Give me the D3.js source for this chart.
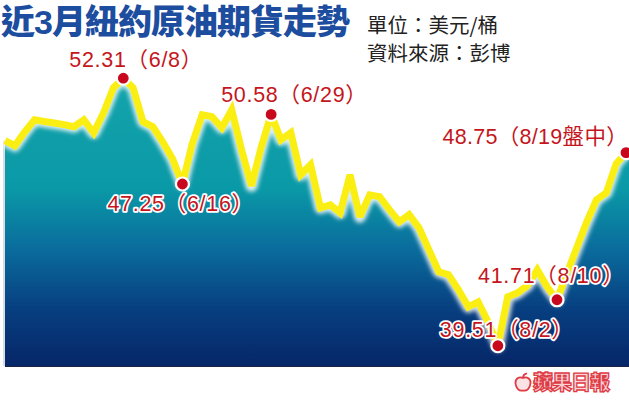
<!DOCTYPE html>
<html>
<head>
<meta charset="utf-8">
<script src="https://cdn.jsdelivr.net/npm/d3@7/dist/d3.min.js"></script>
<style>
html,body{margin:0;padding:0;background:#fff;}
svg{display:block;}
</style>
</head>
<body>
<svg id="chart" width="629" height="401"></svg>
<script>
// ---- data ----
const dates = [
  "5/20","5/23","5/24","5/25","5/26","5/27","5/31","6/1","6/2","6/3",
  "6/6","6/7","6/8","6/9","6/10","6/13","6/14","6/15","6/16","6/17",
  "6/20","6/21","6/22","6/23","6/24","6/27","6/28","6/29","6/30","7/1",
  "7/5","7/6","7/7","7/8","7/11","7/12","7/13","7/14","7/15","7/18",
  "7/19","7/20","7/21","7/22","7/25","7/26","7/27","7/28","7/29","8/1",
  "8/2","8/3","8/4","8/5","8/8","8/9","8/10","8/11","8/12","8/15",
  "8/16","8/17","8/18","8/19"
];
const prices = [
  49.32,49.08,49.74,50.32,50.24,50.17,50.09,49.99,50.32,49.70,
  50.66,51.85,52.31,51.85,50.23,49.99,49.27,48.46,47.25,49.19,
  50.56,50.47,49.94,50.80,48.89,47.16,49.02,50.58,49.36,49.70,
  47.69,48.17,46.11,46.25,45.87,47.69,45.68,46.73,46.64,46.02,
  45.44,45.78,45.15,44.11,43.05,42.91,42.19,41.37,41.61,40.66,
  39.51,41.85,42.04,42.39,43.14,42.33,41.71,42.97,44.20,45.42,
  46.49,46.83,48.22,48.75
];
const markDates  = ["6/8","6/16","6/29","8/2","8/10","8/19"];
const markLabels = ["52.31（6/8）","47.25（6/16）","50.58（6/29）","39.51（8/2）","41.71（8/10）","48.75（8/19盤中）"];
const titleText = "近3月紐約原油期貨走勢";
const unitText = "單位：美元/桶";
const sourceText = "資料來源：彭博";
const logoText = "蘋果日報";

// ---- layout ----
const svg = d3.select("#chart");
const W = 629, H = 401;
const bottomY = 366;

const x = d3.scalePoint().domain(dates).range([5, 626]);
const y = d3.scaleLinear().domain([35, 55]).range([440, 22]);

const data = dates.map((d, i) => ({date: d, value: prices[i]}));

const defs = svg.append("defs");
const grad = defs.append("linearGradient")
  .attr("id", "areaGrad").attr("gradientUnits", "userSpaceOnUse")
  .attr("x1", 0).attr("x2", 0).attr("y1", 80).attr("y2", bottomY);
[[0, "#14a4ab"], [0.38, "#0a99a7"], [0.6, "#0a6a9c"], [0.8, "#073f80"], [1, "#062668"]]
  .forEach(([o, c]) => grad.append("stop").attr("offset", o).attr("stop-color", c));

const glow = defs.append("filter").attr("id", "glow")
  .attr("x", "-10%").attr("y", "-10%").attr("width", "120%").attr("height", "120%");
glow.append("feGaussianBlur").attr("stdDeviation", 2);

// area
const area = d3.area()
  .x(d => x(d.date)).y0(bottomY).y1(d => y(d.value));
svg.append("path").datum(data)
  .attr("d", area).attr("fill", "url(#areaGrad)");
// sliver to right edge
svg.append("rect").attr("x", x(dates[dates.length - 1])).attr("width", W - x(dates[dates.length - 1]))
  .attr("y", y(prices[prices.length - 1])).attr("height", bottomY - y(prices[prices.length - 1]))
  .attr("fill", "url(#areaGrad)");

// left light border & bottom dark line
svg.append("line").attr("x1", 4).attr("x2", 4)
  .attr("y1", y(prices[0])).attr("y2", bottomY)
  .attr("stroke", "#d8dde2").attr("stroke-width", 2);
svg.append("line").attr("x1", 5).attr("x2", W)
  .attr("y1", bottomY + 0.5).attr("y2", bottomY + 0.5)
  .attr("stroke", "#1a2340").attr("stroke-width", 1.2);

// line
const line = d3.line().x(d => x(d.date)).y(d => y(d.value));
svg.append("path").datum(data).attr("d", line)
  .attr("fill", "none").attr("stroke", "#ffffff").attr("stroke-opacity", 0.85)
  .attr("stroke-width", 12).attr("stroke-linejoin", "round")
  .attr("filter", "url(#glow)");
svg.append("path").datum(data).attr("d", line)
  .attr("fill", "none").attr("stroke", "#fbee12")
  .attr("stroke-width", 7).attr("stroke-linejoin", "miter").attr("stroke-miterlimit", 3);

// markers
const marks = markDates.map((d, i) => ({date: d, value: prices[dates.indexOf(d)], label: markLabels[i]}));
svg.selectAll("circle.mk").data(marks).join("circle")
  .attr("class", "mk")
  .attr("cx", d => x(d.date)).attr("cy", d => y(d.value))
  .attr("r", 6.5).attr("fill", "#c8081c")
  .attr("stroke", "#fff").attr("stroke-width", 2.2);

// labels: position relative to marker
const labelPos = {
  "6/8":  {dx: -54, y: 67, halo: false, anchor: "start", ls: 0.7},
  "6/16": {dx: -75, y: 211, halo: true, anchor: "start", ls: 0.7},
  "6/29": {dx: -50, y: 102, halo: false, anchor: "start", ls: 0.7},
  "8/2":  {dx: -58, y: 337, halo: true, anchor: "start", ls: 0.7},
  "8/10": {dx: -79, y: 283, halo: true, anchor: "start", ls: 0.7},
  "8/19": {dx: 2, y: 144, halo: false, anchor: "end", ls: 0.3}
};
const labelFont = "'Liberation Sans', Arial, 'Noto Sans CJK TC', sans-serif";
svg.selectAll("text.lab").data(marks).join("text")
  .attr("class", "lab")
  .attr("x", d => x(d.date) + labelPos[d.date].dx)
  .attr("y", d => labelPos[d.date].y)
  .attr("text-anchor", d => labelPos[d.date].anchor)
  .attr("font-family", labelFont)
  .attr("font-size", 21.5)
  .attr("letter-spacing", d => labelPos[d.date].ls)
  .attr("fill", "#c4161c")
  .attr("stroke", d => labelPos[d.date].halo ? "#ffffff" : "none")
  .attr("stroke-width", 3.5)
  .attr("stroke-linejoin", "round")
  .attr("paint-order", "stroke")
  .text(d => d.label);

// title
svg.append("text")
  .attr("x", 1).attr("y", 34)
  .attr("font-family", "'Liberation Sans', 'Noto Sans CJK TC', 'Noto Sans CJK SC', sans-serif")
  .attr("font-weight", 900).attr("font-size", 34)
  .attr("letter-spacing", -1)
  .attr("fill", "#1c4d9e")
  .text(titleText);

const subFont = "'Noto Sans CJK TC', 'Noto Sans CJK SC', sans-serif";
svg.append("text").attr("x", 367).attr("y", 33)
  .attr("font-family", subFont).attr("font-size", 20.5).attr("fill", "#222")
  .text(unitText);
svg.append("text").attr("x", 367).attr("y", 61)
  .attr("font-family", subFont).attr("font-size", 20.5).attr("fill", "#222")
  .text(sourceText);

// logo
const logo = svg.append("g").attr("transform", "translate(515,373)");
logo.append("path")
  .attr("d", "M8,5 C4,3 0,6 0.5,10.5 C1,15 4,18.5 8,17.5 C12,18.5 15,15 15.5,10.5 C16,6 12,3 8,5 Z M8,5 C8,2.5 9.5,0.8 12,0.3")
  .attr("fill", "#fbe3e4").attr("stroke", "#df3b45").attr("stroke-width", 1.8);
logo.append("text").attr("x", 18).attr("y", 17)
  .attr("font-family", subFont).attr("font-weight", 900).attr("font-size", 20)
  .attr("letter-spacing", -1)
  .attr("fill", "#f8d2d4").attr("stroke", "#df3b45").attr("stroke-width", 1.3)
  .attr("paint-order", "fill")
  .text(logoText);
</script>
</body>
</html>
